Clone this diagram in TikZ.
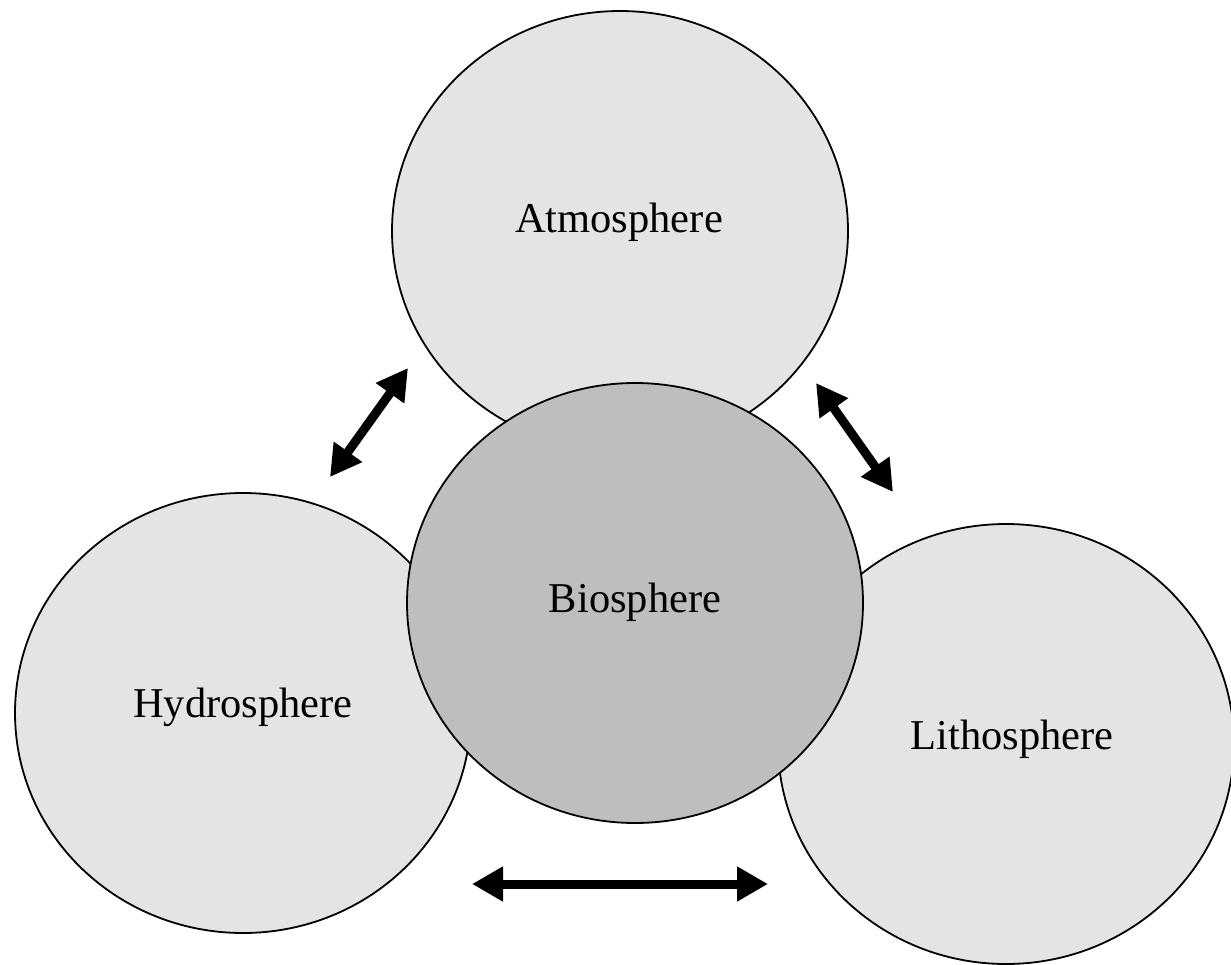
\documentclass[tikz,border=0pt]{standalone}
\usepackage{fontspec}
\setmainfont{Liberation Serif}
\usetikzlibrary{shapes.geometric,arrows.meta}
\definecolor{lightsph}{HTML}{E4E4E4}
\definecolor{biosph}{HTML}{BEBEBE}
\tikzset{
  sphere/.style={ellipse, draw=black, line width=1.8pt, minimum width=456pt, minimum height=440pt, inner sep=0pt, fill=lightsph},
  biosphere/.style={sphere, fill=biosph},
  lbl/.style={anchor=base, inner sep=0pt, font=\fontsize{42.5}{50}\selectfont},
  dblarrow/.style={line width=9pt, {Triangle[width=33pt,length=31pt]}-{Triangle[width=33pt,length=31pt]}}
}
\begin{document}
\begin{tikzpicture}[x=1pt,y=-1pt]
\useasboundingbox (0,0) rectangle (1231,964);
\node[sphere] (atm) at (620,231) {};
\node[sphere] (hyd) at (243,713) {};
\node[sphere] (lit) at (1006,744) {};
\node[biosphere] (bio) at (635,603) {};
\node[lbl] (atmt) at (619,232) {Atmosphere};
\node[lbl] (hydt) at (243,717) {Hydrosphere};
\node[lbl] (biot) at (635,612) {Biosphere};
\node[lbl] (litt) at (1012,749) {Lithosphere};
\coordinate (l1) at (330,477);
\coordinate (l2) at (408,368);
\coordinate (r1) at (816,383);
\coordinate (r2) at (893,492);
\coordinate (b1) at (472,884);
\coordinate (b2) at (768,884);
\draw[dblarrow] (l1) -- (l2);
\draw[dblarrow] (r1) -- (r2);
\draw[dblarrow] (b1) -- (b2);
\end{tikzpicture}
\end{document}
